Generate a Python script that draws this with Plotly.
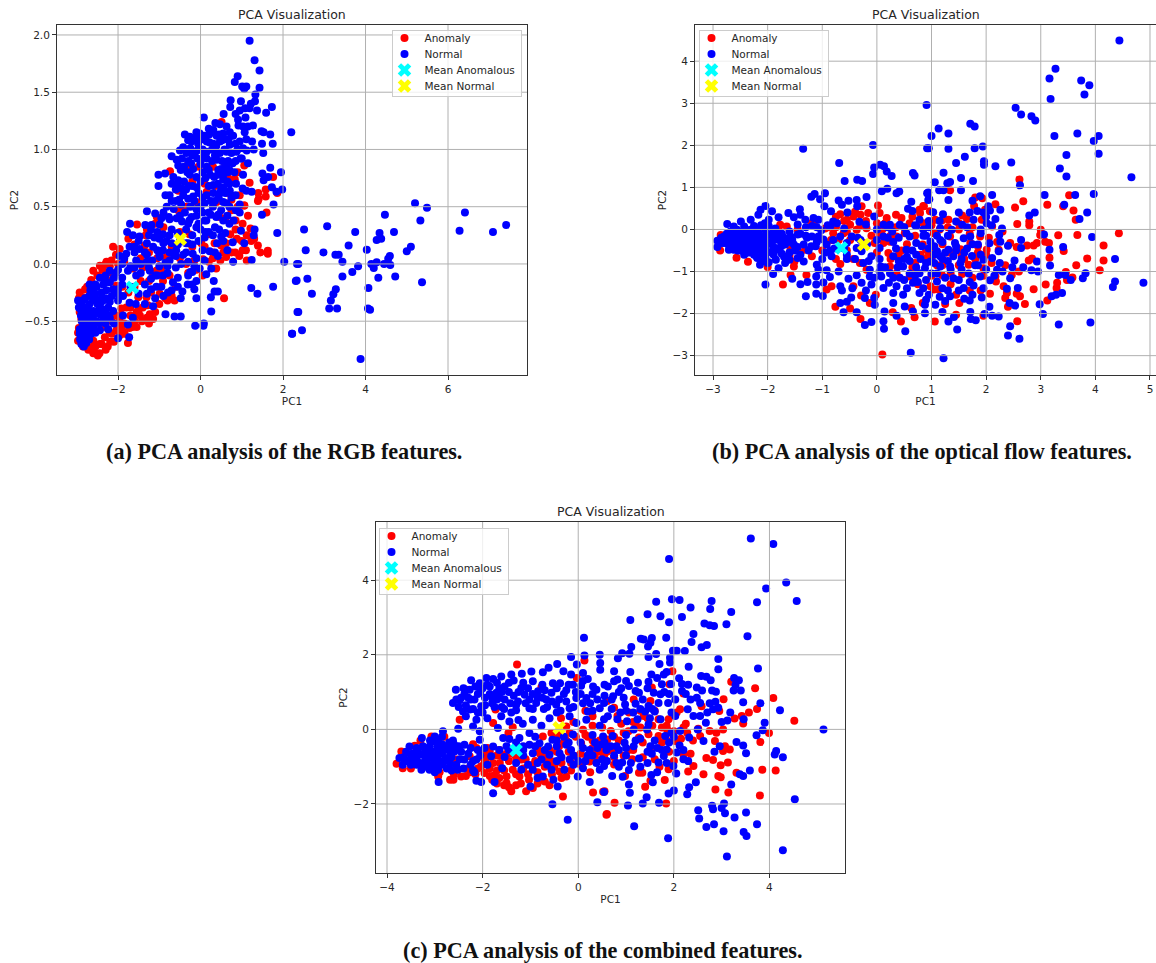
import plotly.graph_objects as go

W, H = 1156, 963

# (PC1, PC2) values, one list per panel and class
rgb_normal = [(5.20,.53),(5.49,.49),(6.41,.45),(7.41,.34),(7.09,.28),(6.28,.29),(5.33,.38),(4.47,.43),(4.69,.28),(4.34,.27),(4.38,.22),(4.27,.21),(3.75,.28),(3.07,.33),(2.51,.30),(2.55,.12),(2.98,.10),(3.27,.08),(3.35,.08),(3.59,.16),(4.03,.125),(3.44,.02),(2.37,0),(2.59,-.13),(2.33,-.145),(2.70,-.26),(3.44,-.11),(3.68,-.07),(3.82,-.02),(4.14,0),(4.27,.015),(4.2,-.035),(4.45,0),(4.59,.07),(4.55,.045),(4.6,-.01),(4.72,-.11),(4.31,-.12),(5.0,.11),(5.1,.15),(5.37,-.16),(4.07,-.21),(3.28,-.22),(3.22,-.265),(3.16,-.32),(3.12,-.39),(3.31,-.39),(4.06,-.39),(4.11,-.40),(2.37,-.42),(2.46,-.58),(2.22,-.61),(3.88,-.83),(2.2,1.15),
(1.19,1.95),(1.31,1.78),(1.43,1.69),(.9,1.64),(.83,1.59),(1.01,1.55),(1.11,1.55),(1.06,1.53),(1.43,1.54),(1.33,1.48),(.73,1.43),(.98,1.42),(1.32,1.42),(1.22,1.40),(.72,1.37),(1.73,1.37),(1.08,1.36),(.95,1.34),(1.19,1.36),(1.37,1.34),(1.59,1.32),(.85,1.31),(.56,1.31),(1.09,1.28),(.91,1.26),(.08,1.28),(.36,1.23),(.47,1.22),(.92,1.21),(1.27,1.21),(1.15,1.20),(1.03,1.20),(.63,1.20),(.31,1.17),(.71,1.15),(1.07,1.15),(1.48,1.16),(1.53,1.15),(1.69,1.13),(-.38,1.13),(-.26,1.11),(-.02,1.14),(.21,1.13),(.39,1.12),(.55,1.14),(.79,1.12),(1.11,1.09),(1.25,1.07),(.95,1.07),(1.49,1.05),(1.75,1.05),(1.29,1.0),(1.52,.97),(1.03,1.01),(.71,1.04),(-.22,1.07),(-.06,1.05),(.15,1.07),(.31,1.05),(.47,1.07),(.6,1.09),(-.5,.99),(-.34,.97),(-.14,.97),(.15,.98),(.47,.97),(.63,.98),(.87,.98),(-.7,.94),(-.58,.91),(-.54,.86),(-.23,.88),(.15,.92),(.39,.91),(.67,.9),(.85,.90),(0,.87),(.15,.85),(.43,.82),(1.03,.78),(1.5,.79),(1.69,.84),(1.95,.80),(1.64,.76),(1.53,.73),(-1.02,.78),(-.86,.79),(-.66,.76),(-.7,.7),(-1.02,.68),(-.54,.73),(-.32,.8),(-.26,.78),(-.1,.76),(.23,.78),(.33,.76),(.55,.74),(.31,.69),(-.46,.66),(-.3,.68),(-.1,.67),(.55,.67),(.71,.64),(1.02,.66),(1.11,.64),(1.24,.63),(1.73,.67),(1.84,.63),(1.98,.65),(-.6,.55),(-.52,.56),(-.18,.59),(.15,.6),(.31,.62),(.47,.62),(.55,.54),(.63,.53),(.95,.52),(1.77,.52),(-1.3,.46),(-1.1,.44),(-.77,.41),(-.58,.4),(-.38,.45),(-.22,.41),(.05,.45),(.43,.43),(.95,.45),(1.49,.43),
(-1.71,.35),(-1.34,.34),(-1.19,.34),(-.99,.345),(-.75,.39),(-1.78,.28),(-1.64,.25),(-1.48,.24),(-1.12,.23),(-.91,.26),(-.83,.2),(-.27,.38),(-.1,.32),(.14,.38),(.38,.41),(.7,.35),(.98,.29),(1.31,.3),(1.29,.25),(1.86,.27),(1.06,.18),(.78,.19),(.5,.24),(.22,.11),(.42,.07),(.79,.02),(1.24,.035),(2.03,.02),(2.34,0),(-.35,.18),(-.59,.12),(-.91,.12),(-1.15,.15),(-1.48,.13),(-1.72,.15),(-1.96,.07),(-1.8,.09),(-1.56,.03),(-1.17,.03),(-.99,.06),(-.75,.03),(-.47,0),(-.19,.09),(-.02,-.04),(.26,-.04),(.14,-.09),(-.1,-.15),(-.31,-.18),(.32,-.15),(.42,-.24),(.34,-.24),(.25,-.29),(-.1,-.3),(-.15,-.22),(-.44,-.24),(-.48,-.3),(.26,-.415),(-.13,-.54),(.07,-.54),(.08,-.52),(-.48,-.46),(-.63,-.46),(-.85,-.44),(1.23,-.21),(1.38,-.26),(1.76,-.2),(2.31,-.15),(2.35,-.42),(2.22,-.61),(-1.23,-.06),(-.91,-.1),(-.67,-.16),(-.79,-.25),(-1.07,-.2),(-1.35,-.18),(-1.56,-.1),(-1.76,-.06),(-2.2,-.06),(-2.44,-.12),(-2.69,-.18),(-2.67,-.23),(-2.12,-.22),(-1.88,-.28),(-1.35,-.35),(-1.15,-.37),(-1.57,-.35),(-1.72,-.34),(-2,-.32),(-1.88,-.45),(-1.64,-.47),(-1.76,-.53),(-2.1,-.52),(-2.24,-.57),(-1.73,-.64),(-2,-.65),
(-2.97,-.32),(-2.85,-.32),(-2.9,-.35),(-2.69,-.35),(-2.53,-.32),(-2.36,-.32),(-2.24,-.38),(-2.12,-.41),(-2.44,-.38),(-2.6,-.41),(-2.77,-.45),(-2.6,-.45),(-2.44,-.44),(-2.28,-.44),(-2.2,-.47),(-2.36,-.48),(-2.52,-.5),(-2.69,-.51),(-2.85,-.53),(-2.93,-.57),(-2.77,-.57),(-2.6,-.56),(-2.44,-.58),(-2.93,-.61),(-2.77,-.63),(-2.65,-.61),(-2.89,-.7),(-2.77,-.69),(-2.8,-.66),(-2.52,-.2),(-2.36,-.18),(-2.28,-.23),(-2.7,-.28),(-2.55,-.26),(-2.4,-.25),(-2.3,-.3),(-2.9,-.45),(-2.85,-.42),(-2.72,-.4),(-2.5,-.42),
(-.3,1.08),(-.12,1.1),(.05,1.09),(.22,1.06),(.38,1.03),(.52,1.08),(.68,1.09),(.85,1.05),(-.42,1.02),(-.25,1.01),(-.08,.99),(.05,1.0),(.28,1.0),(.4,.97),(.58,1.0),(.75,.97),(1.12,.99),(-.45,.92),(-.3,.9),(-.08,.92),(.08,.94),(.28,.9),(.52,.9),(.62,.86),(.78,.88),(.97,.92),(-.48,.82),(-.18,.83),(.05,.8),(.12,.75),(.42,.78),(.5,.83),(.66,.8),(.82,.8),(-.55,.7),(-.4,.72),(-.2,.68),(0,.72),(.2,.68),(.42,.7),(.65,.72),(.86,.7),(-.75,.6),(-.42,.6),(-.3,.57),(-.05,.62),(.05,.58),(.25,.55),(.44,.58),(.6,.62),(.75,.58),(-.82,.5),(-.65,.48),(-.47,.52),(-.25,.5),(-.1,.48),(.1,.53),(.3,.5),(.5,.47),(.7,.5),(.86,.47),(-.95,.4),(-.45,.37),(-.1,.42),(.1,.38),(.25,.43),(.55,.38),(.65,.42),(.8,.38),(-1.2,.3),(-1.05,.28),(-.7,.3),(-.55,.27),(-.35,.3),(-.2,.25),(0,.3),(.2,.28),(.35,.32),(.6,.27),(-1.5,.2),(-1.3,.18),(-1,.22),(-.7,.18),(-.5,.2),(-.2,.17),(-.05,.2),(.1,.23),(.4,.18),(-1.6,.1),(-1.3,.08),(-1.05,.12),(-.75,.1),(-.6,.07),(-.35,.1),(-.1,.05),(.05,.12),(.35,.1),(-1.9,0),(-1.6,-.03),(-1.3,.02),(-1.0,-.02),(-.85,.01),(-.6,-.03),(-.3,.02),(-.15,-.02),(.1,.03),(-2.3,-.1),(-2.05,-.08),(-1.9,-.12),(-1.45,-.08),(-1.2,-.13),(-1.05,-.1),(-.8,-.08),(-.55,-.12),(-.3,-.1),(-.2,-.07),(-2.55,-.18),(-2.3,-.16),(-2.0,-.22),(-1.9,-.18),(-1.2,-.22),(-.95,-.2),(-.7,-.23),(-.55,-.2),(-.2,-.18),(-2.8,-.3),(-2.6,-.32),(-2.4,-.3),(-2.2,-.33),(-2,-.26),(-1.1,-.3),(-.9,-.28),(-2.15,-.28),(-2.2,-.16),(-1.7,-.2),(-1.5,-.26),(-1.3,-.26),
(-2.95,-.38),(-2.8,-.38),(-2.65,-.43),(-2.5,-.35),(-2.35,-.4),(-2.3,-.52),(-2.45,-.52),(-2.58,-.5),(-2.75,-.48),(-2.88,-.5),(-2.92,-.66),(-2.82,-.6),(-2.7,-.56),(-2.55,-.6),(-2.83,-.72),(-2.7,-.66),(-2.62,-.53),(-2.9,-.4),(-2.78,-.53),(-2.42,-.34),
(-2.1,-.12),(-2.0,-.05),(-1.85,.05),(-1.7,-.02),(-1.6,.15),(-1.45,.0),(-1.35,.1),(-1.25,-.03),(-1.1,-.1),(-1.0,.08),(-.9,.18),(-.8,-.02),(-.65,.08),(-.55,.17),(-.42,.08),(-.3,.18),(-.25,-.07),(0,.9),(.2,.82),(.35,.95),(.55,.78),(.7,.82),(.9,1.0),(1.0,.92),(1.15,.88),(.45,1.13),(.2,1.18),(.1,1.12),(-.1,1.15),(-.2,.95),(-.4,.85),(-.35,.65),(-.15,.55),(0,.5),(.2,.45),(.35,.55),(.5,.65),(.7,.7),(.85,.6),(-.6,.65),(-.7,.55),(-.85,.6),(-.5,.42),(-.3,.35),(-.05,.35),(.12,.28),(.3,.25),(.45,.3),(.55,.2),(.65,.12),(-.9,.45),(-.75,.25),(-1.25,.25)]

rgb_anomaly = [(.51,1.24),(-.74,.81),(-.32,.86),(1.06,.86),(.9,.8),(.67,.75),(.83,.74),(1.19,.71),(1.76,.76),(1.58,.65),(1.4,.62),(1.41,.57),(1.58,.59),(1.86,.62),(.95,.6),(.75,.56),(1.06,.51),(1.6,.45),(-.54,.64),(-1.06,.41),(-.54,.47),(-.34,.5),(.15,.63),(-.1,.54),(.39,.54),(.75,.47),
(-2.49,-.8),(-2.6,-.75),(-2.97,-.67),(-2.4,-.7),(-2.19,-.68),(-1.76,-.69),(-2.15,-.61),(-1.72,-.56),(-1.15,-.48),(-1.23,-.44),(-1.47,-.45),(-1.6,-.5),(-1.96,-.5),(-1.8,-.38),(-2.93,-.25),(-2.85,-.29),(-2.93,-.42),(-2.89,-.48),(-2.95,-.56),(-2.6,-.06),(-2.44,-.015),(-2.16,.03),(-2.12,.15),(-1.96,.13),(-1.35,.16),(-1.54,.345),(-1.33,.25),(-.63,-.32),(.57,-.3),(.38,-.04),(1.12,.03),(.94,.07),(.84,.1),(.62,.06),(.5,.16),(.34,.18),(1.39,.16),(1.63,.115),(1.63,.09),(1.23,.2),(1.21,.31),(1.39,.55),(1.06,.51),(1.02,.35),(-.99,-.26),(-1.31,-.29),(-1.51,-.29),(-1.92,-.39),(-2.04,-.19),(-1.07,-.06),(-.91,-.15),(-1.64,-.04),(-1.4,-.03),(-2.2,-.15),(-2.32,-.1),(-.83,.06),(-.35,0),(.06,.04),(-.27,.26),(-.43,.47),(.22,.26),(.62,.18),(.02,.18),(.46,.41),(.9,.5),(-2.6,-.67),(-2.32,-.64),(-2.44,-.7),(-2.04,-.58),(-1.84,-.61),(-2.69,-.73),(-2.85,-.72),(-2.75,-.2),(-2.5,-.1),(-2.2,-.02),(-1.2,-.25),(-1.5,-.4),(-1.7,-.45),(-.7,.15),(-.1,-.05),(.2,.02),
(-2.3,-.55),(-2.15,-.5),(-2.0,-.45),(-1.85,-.52),(-1.7,-.38),(-1.55,-.42),(-1.4,-.38),(-1.28,-.36),(-1.95,-.55),(-2.25,-.72),(-2.55,-.72),(-2.72,-.75),(-2.9,-.68),(-2.97,-.6),(-2.8,-.22),(-2.65,-.14),(-2.38,-.05),(-2.28,.02),(-2.05,.08),(-1.85,.02),(-1.75,.22),(-1.6,.17),(-1.45,.05),(-1.25,.1),(-.8,-.32),(-.5,.05),(-.2,.15),(.05,-.1),(.48,.03),(.3,.1),(.72,.26),(.88,.22),(1.02,.12),(1.12,.25),(.85,.38),(.6,.4),(1.15,.42),(.65,.62),(.35,.68),(.1,.7),(-.2,.72),(-.05,.85),(.3,.85),(.6,.87),(-.5,.28),(-.9,.32),(-1.05,.05),
(-2.2,-.6),(-2.1,-.45),(-1.95,-.62),(-1.9,-.58),(-1.65,-.55),(-1.55,-.55),(-1.42,-.5),(-1.3,-.47),(-1.25,-.52),(-1.1,-.42),(-1,-.35),(-.85,-.3),(-.7,-.28),(-1.9,-.2),(-1.75,-.25),(-1.6,-.2),(-1.45,-.15),(-1.25,-.15),(-1.15,-.1),(-.95,-.05),(-.75,-.1),(-.6,-.2),(-2.45,-.78),(-2.3,-.75),(-2.1,-.68),(-2.6,-.78),(-2.95,-.3),(-2.3,.0),(-2.15,-.08),(-2.0,.0),(-1.3,.3),(-1.1,.35),(-.3,-.08),(-.15,.03),(.1,.15),(.3,.05),(.55,.1),(.75,.1),(1.0,.2),(.85,.3),(1.1,.12),(1.3,.22),(1.45,.1)]

flow_normal = [(-1.35,1.92),(-.07,2.01),(-.69,1.58),(-.59,1.15),(-.36,1.18),(-.27,1.15),(-.05,1.47),(-.07,1.32),(.06,1.54),(.13,1.5),(.18,1.38),(.27,1.27),(.66,1.34),(.69,1.28),(.09,.91),(.19,.97),(.36,.86),(.41,.9),(.92,1.93),(-1.2,.78),(-1.14,.84),(-1.04,.72),(-.95,.86),(-.19,.77),(-.7,.69),(-.64,.59),(-.52,.68),(-.37,.7),(-.36,.55),(-.96,.55),(-.84,.43),(-.54,.4),(.63,.66),(.57,.49),(.65,.44),(.92,.86),(.94,.7),(-2.04,.56),(-2.13,.47),(-2.17,.35),(-1.92,.43),(-1.8,.29),(-1.62,.39),(-1.41,.48),(-1.4,.35),(-1.52,.29),(-1.31,.23),(-1.16,.27),(-1.07,.23),(-2.31,.23),(-2.49,.19),(-2.74,.13),(-2.62,.07),(-1.98,.23),(-2.05,.15),(-.8,.19),(-.73,.15),(-.32,.18),(-.05,.31),(.12,.11),(.24,.11),(.42,.11),(.78,.23),(.54,-.09),(.6,-.17),
(-2.92,-.42),(-2.92,-.27),(-2.8,-.17),(-2.68,-.05),(-2.56,-.01),(-2.43,.07),(-2.68,-.25),(-2.8,-.32),(-2.71,-.48),(-2.56,-.4),(-2.43,-.17),(-2.43,-.36),(-2.31,-.01),(-2.31,-.2),(-2.31,-.4),(-2.43,-.6),(-2.25,-.6),(-2.16,-.09),(-2.16,-.29),(-2.16,-.48),(-2.14,-.84),(-2.19,-.68),(-2.04,-.01),(-2.04,-.25),(-2.04,-.44),(-2.04,-.68),(-1.92,-.13),(-1.92,-.36),(-1.89,-.6),(-2.56,-.17),(-1.8,-.25),(-1.8,-.48),(-1.68,-.8),(-1.68,-.36),(-1.52,-.36),(-1.58,-.17),(-1.34,-.36),(-1.34,-.76),(-1.19,-.17),(-1.07,-.17),(-.92,-.36),(-.83,-.64),(-.67,-.17),(-.46,-.17),(-.37,-.44),(-.28,-.52),(-.1,-.64),(.05,-.44),(.12,-.17),
(-1.9,-1.06),(-1.8,-.92),(-2.04,-1.31),(-1.55,-1.17),(-1.4,-1.3),(-1.27,-1.25),(-1.11,-1.31),(-1.11,-1.12),(-1.1,-.84),(-1.07,-.96),(-.92,-.97),(-.86,-1.13),(-.98,-1.26),(-1.3,-1.59),(-1.11,-1.53),(-.99,-1.58),(-.52,-1.17),(-.37,-1.09),(-.28,-1.27),(-.67,-1.35),(-.64,-1.45),(-.47,-1.62),(-.55,-1.72),(-.67,-1.75),(-.61,-1.97),(-.37,-1.97),(-.22,-1.63),(-.05,-1.63),(-.1,-1.31),(-.13,-1.12),(-.13,-.96),(.07,-.88),(.08,-1.12),(.24,-1.04),(.22,-1.27),(.36,-1.35),(.3,-1.51),(.48,-1.55),(.12,-1.39),(-.04,-1.79),(.14,-1.95),(.12,-2.18),(.13,-2.36),(-.1,-2.2),(-.22,-2.27),(.36,-2.05),(.52,-2.42),(.51,-1.83),(.66,-1.95),(.62,-2.93),(.88,-1.99),(.9,-1.67),(.78,-1.51),(.66,-1.27),(.78,-1.04),(.48,-.88),(.3,-.64),(.54,-.48),(.72,-.32),(.9,-.8),
(4.44,4.49),(3.27,3.82),(3.16,3.59),(3.18,3.1),(3.74,3.54),(3.89,3.43),(3.8,3.21),(2.54,2.89),(2.64,2.73),(2.83,2.69),(2.9,2.59),(3.25,2.22),(3.67,2.28),(4.06,2.22),(3.97,2.1),(3.47,1.77),(4.06,1.8),(3.35,1.45),(3.47,1.26),(4.66,1.24),(3.07,.82),(3.63,.82),(3.97,.84),(3.43,.59),(3.85,.4),(3.71,.25),(3.94,-.18),(3.41,-.42),(3.16,-.48),(3.17,-.86),(3.06,-.12),(2.89,.4),(2.79,.33),(.91,2.96),(1.13,2.4),(1,2.22),(1.31,2.28),(1.71,2.51),(1.79,2.45),(.95,1.93),(1.31,1.92),(1.79,1.93),(1.94,1.97),(1.61,1.73),(1.45,1.58),(1.96,1.62),(1.96,1.54),(2.17,1.5),(2.46,1.59),(1.22,1.35),(1.06,1.12),(1.29,1.1),(1.34,1.13),(1.54,1.22),(1.76,1.15),(2.62,1.05),(.94,.88),(1.14,.93),(1.22,.93),(1.54,.93),(.96,.72),(1.31,.7),(1.89,.79),(1.75,.68),(2.11,.82),(2.04,.55),(2.07,.45),(2.26,.47),(1.84,.44),(1.03,.41),(1.21,.36),(1.77,.23),(2.17,.25),(2.01,.15),(1.45,.19),(1.56,.11),(.95,.2),(2.29,.02),(2.24,-.13),(2.64,-.25),(2.4,-.39),(2.64,-.44),(2.26,-.29),(2.06,-.33),(1.9,-.09),(1.59,-.21),(1.71,-.17),(1.85,-.36),(1.43,-.32),(1.16,.03),(1.37,-.01),(1.16,-.25),(.98,-.29),(.82,-.4),(1.1,-.52),(1.31,-.48),(1.16,-.64),(.98,-.76),(1.4,-.64),(1.53,-.8),(1.74,-.63),(1.95,-.72),(2.11,-.68),(2.23,-.52),(2.52,-.74),(2.48,-.9),(2.68,-.9),(2.83,-.97),(2.95,-1),(2.93,-.76),(2.2,-.96),(2.07,-1.21),(1.89,-1.12),(1.68,-1.05),(1.34,-.88),(1.16,-.88),(.88,-.92),(1.1,-1.24),(1.4,-1.16),(1.59,-1.39),(1.77,-1.33),(1.34,-1.59),(1.7,-1.69),(1.92,-1.62),(1.07,-1.79),(.88,-1.79),(1.2,-1.96),(1.71,-1.96),(2.06,-1.84),(2.43,-1.75),(2.53,-1.81),(2.38,-1.41),(2.58,-1.39),(2.44,-1.16),(2.98,-1.78),(3.04,-2.01),(3.33,-2.26),(3.91,-2.21),(2.44,-2.3),(2.4,-2.52),(2.61,-2.6),(2.23,-2.07),(2.11,-2.05),(1.97,-2.01),(1.81,-2.16),(1.72,-2.13),(1.41,-2.08),(1.31,-2.19),(1.47,-2.38),(1.22,-3.06),(3.39,-1.51),(3.28,-1.55),(3.2,-1.59),(3.33,-1.08),(3.45,-1.08),(3.55,-1.2),(3.77,-1.16),(3.82,-1.04),(4.36,-.7),(4.36,-1.24),(4.32,-1.37),(4.88,-1.27),
(-2.85,-.32),(-2.75,-.2),(-2.72,-.36),(-2.62,-.12),(-2.62,-.3),(-2.62,-.48),(-2.5,-.08),(-2.5,-.26),(-2.5,-.5),(-2.38,-.02),(-2.38,-.27),(-2.38,-.48),(-2.25,.08),(-2.25,-.12),(-2.25,-.3),(-2.25,-.5),(-2.12,.1),(-2.1,-.18),(-2.1,-.38),(-2.1,-.58),(-2.1,-.75),(-1.98,.08),(-1.98,-.12),(-1.98,-.32),(-1.98,-.54),(-1.98,-.78),(-1.86,.02),(-1.86,-.22),(-1.85,-.44),(-1.85,-.72),(-1.74,-.1),(-1.74,-.32),(-1.74,-.58),(-1.6,-.05),(-1.6,-.3),(-1.6,-.55),(-1.6,-.72),(-1.45,.12),(-1.45,-.12),(-1.45,-.42),(-1.45,-.68),(-1.3,.05),(-1.28,-.2),(-1.25,-.5),(-1.18,.08),(-1.12,-.4),(-1.02,-.02),(-.98,-.24),(-.95,-.55),(-.85,.08),(-.8,-.25),(-.78,-.45),(-.6,.02),(-.55,-.32),(-.55,-.6),(-.35,-.2),(-.4,-.7),(-.2,.12),(-.18,-.35),(-.15,-.75),(0,0),(.05,-.7),(.2,-.2),(.15,-.9),(.35,-.45),(.38,-.9),(.42,-1.15),(.5,-.7),(.6,-.75),(.6,-1.05),(.72,-.6),(.72,-.9),(.55,-1.4),(.75,-1.25),(.3,-1.75),(.85,-1.4),(1.0,-1.05),(.95,-1.55),(1.2,-1.4),(1.25,-1.15),(1.5,-1.45),(1.55,-.95),(1.45,-.4),(1.3,-.15),(1.05,-.8),(1.05,-.4),(1.2,-.7),(1.25,-1.7),(1.85,-.85),(1.75,-1.55),(1.95,-1.4),(2.15,-1.1),(1.65,-.45),(2.0,.3),(1.65,.05),(1.15,.2),(.95,.05),(.85,-.15),(.72,.08),(.4,-.2),(.28,-.05),(-.7,-1.0),(-.45,-1.4),(-.2,-1.45),(-.05,-1.15),
(-2.85,-.2),(-2.75,-.3),(-2.75,-.1),(-2.65,-.35),(-2.65,-.2),(-2.6,.0),(-2.55,-.28),(-2.55,-.5),(-2.45,-.05),(-2.45,-.28),(-2.45,-.45),(-2.35,-.1),(-2.35,-.3),(-2.35,-.55),(-2.2,.0),(-2.2,-.2),(-2.2,-.4),(-2.2,-.65),(-2.05,.05),(-2.05,-.15),(-2.05,-.35),(-2.05,-.55),(-2.0,-.8),(-1.9,-.05),(-1.9,-.25),(-1.9,-.5),(-1.8,-.1),(-1.75,-.4),(-1.7,-.65),(-1.7,-.2),(-1.55,-.25),(-1.5,-.5),(-1.4,-.1),(-1.4,-.6),(-1.3,-.15),(-1.2,-.4),(-1.1,.05),(-1.1,-.3),(-1,-.7),(-.9,.1),(-.85,-.5),(-.6,-.45),(-.55,-.7),(-.3,-.25),(-.25,-.8),(0,-.25),(.05,-1.0),(.2,.05),(.3,-.3),(.4,-.75),(.55,-.65),(.65,-.5),(.8,-.7),(.9,-.15),(.95,-.45),(1.05,-.6),(1.1,-.15),(1.2,-.3),(1.25,-.55),(1.3,-.75),(1.45,-.5),(1.6,-.55),(1.75,-.35),(1.8,-.85),(1.9,-.6),(1.55,-.7),(1.35,-.95),(1.1,-1.05),(.9,-1.2),(.7,-1.1),(.5,-1.2),(.3,-1.15),(1.7,-1.25),(1.5,-1.2),(1.3,-1.45),(1.15,-1.6),(1.6,-1.65),(2.25,-.8),(2.3,-1.0),(2.0,-.95),(.5,.05),(.7,.1),(.85,.0),(1.5,.4),(1.7,.4),(1.95,.4),(1.9,.0),(2.1,.1)]

flow_anomaly = [(-2.87,-.5),(-2.86,-.13),(-2.57,-.67),(-2.36,-.77),(-2,-.89),(-1.72,-1.31),(-1.58,-1.08),(-1.52,-.88),(-1.29,-1.08),(-1.51,-.76),(-1.58,-.48),(-1.31,-.48),(-1.19,-.64),(-1.65,.07),(-1.77,.11),(-1.8,.03),(-1.95,-.13),(-.67,.36),(-.28,.55),(-.3,.35),(-.55,.23),(-.43,.31),(-.49,.11),(-.8,-.09),(-.7,-.25),(-.84,-.25),(-.37,-.01),(-.19,.03),(-.16,.39),(.02,.57),(.05,.39),(.18,.27),(.45,.27),(.51,-.09),(.78,.47),(.86,.55),(.6,.15),(.24,-.29),(.36,-.17),(.9,-.48),(.84,-.36),(.21,-.56),(.24,-.88),(.36,-1.04),(.6,-1.12),(.84,-1.75),(.63,-1.87),(.69,-2.09),(.44,-2.19),(.29,-1.97),(.1,-2.97),(-.3,-2.13),(-.76,-1.84),(-.49,-1.88),(-.29,-1.57),(-.13,-1.75),(-.02,-1.55),(-.43,-1.35),(-.83,-1.35),(-.92,-1.43),(-.67,-.82),(-.43,-.7),(-.31,-.8),(-.19,-.96),(-.25,-.32),(-.04,-.32),(.12,-.32),(-.49,-.25),(-.61,-.09),
(2.61,1.19),(2.68,.67),(2.53,.52),(2.17,.6),(3.12,.59),(3.52,.81),(3.41,.55),(3.6,.45),(3.64,.23),(2.79,.19),(2.79,.1),(2.57,.13),(3,-.01),(2.99,-.13),(3.32,-.14),(3.67,-.13),(4.43,-.09),(4.15,-.38),(4.15,-.74),(3.85,-.69),(3.65,-.85),(4.08,-.97),(3.15,-.32),(3.08,-.29),(2.93,-.32),(2.87,-.38),(2.75,-.38),(2.56,-.42),(2.44,-.32),(3.16,-.67),(3.42,-.51),(2.78,-.74),(2.84,-.69),(2.6,-1),(2.47,-1.08),(2.32,-1.35),(2.38,-1.51),(2.35,-1.63),(2.4,-1.84),(2.56,-1.53),(2.62,-1.59),(2.71,-1.77),(2.87,-1.42),(3.09,-1.31),(3.3,-1.27),(3.29,-1.39),(3.12,-1.69),(3.46,-1.01),(3.48,-1.2),(3.58,-1.14),(2.07,-1.53),(2.18,-1.24),(1.95,-2.05),(2.57,-2.18),(1.06,-2.19),(1.45,-2.03),(1.51,-1.75),(1.25,-1.77),(1.04,-1.43),(1.13,-1.43),(.98,-1.35),(1.56,.33),(1.31,.23),(1.19,.21),(1.07,.23),(1.34,.93),(1.8,.76),(1.93,.74),(1.78,.56),(1.98,.47),(1.92,.23),(2.11,.07),(1.89,-.17),(1.71,-.32),(1.53,-.47),(1.34,-.17),(1.04,-.09),(.85,.56),(.97,.43),(.79,.39),(.85,.15),(.91,-.68),(1.56,-1.06),(1.68,-.84),(2.01,-.48),(2.23,-.48),(1.95,-.92),(2.17,-1.12),(1.19,-1.08),
(-.6,.2),(-.75,.05),(-.55,-.05),(-.4,.42),(-.2,.2),(0,.15),(.15,.15),(.35,.05),(.05,-.1),(.25,-.15),(-.1,-.15),(.4,-.6),(.55,-.35),(.7,-.15),(1,.1),(1.3,.05),(1.5,.0),(1.75,.05),(1.2,-.35),(1.4,-.55),(1.6,-.7),(1.85,-.55),(2.05,-.2),(1.2,-.85),(.7,-.8),(.75,-1.3),(1.0,-1.1),(1.35,-1.3),(1.75,-1.15),(1.9,-1.45),(.95,-.55),(-1.4,-.55),(-1.6,-.62),(-1.45,.0),(-1.2,.15),(-.95,.02),(-1.0,-.5),(-.55,-.5),(-.75,-.7),
(-1.15,.1),(-.9,.05),(-.75,.3),(-.3,.1),(.1,0),(.35,.35),(.65,.3),(.5,.05),(1.15,.0),(1.5,.15),(1.65,.25),(1.7,-.1),(1.05,-.45),(1.1,-.85),(1.3,-.55),(1.55,-.6),(1.8,-.7),(1.5,-.85),(1.35,-1.05),(1.0,-.7),(.8,-.6),(.65,-.9),(.45,-.5),(.25,-.7),(.0,-.55),(1.85,-.4),(2.0,-.6),(2.1,-.8),(2.35,-.85),(2.2,-.3),(2.3,-.05),(1.45,-1.55),(1.7,-1.45),(1.95,-1.1)]

combined_normal = [(.12,2.46),(-.15,1.94),(.13,1.98),(.45,2),(.46,1.78),(.46,1.6),(-.03,1.74),(-.44,1.75),(-.62,1.65),(-.74,1.53),(-.98,1.55),(-1.18,1.49),(-1.4,1.47),(-1.35,1.31),(-1.61,1.42),(-1.78,1.35),(-1.92,1.38),(-2.24,1.32),(-2.06,1.24),(-2.56,1.06),(-2.62,.71),(-2.48,.78),(-2.41,.48),(-2.27,1.06),(-2.17,.8),(-2.27,.53),(-2.13,.26),(-2.2,.08),(-2.51,.02),(-2.03,.62),(-1.85,1.15),(-1.71,.98),(-1.54,1.15),(-1.54,.8),(-1.61,.35),(-1.44,.21),(-1.68,.04),(-1.19,1.11),(-1.26,.75),(-1.3,.51),(-1.12,.93),(-.95,1.29),(-.84,1.02),(-.88,.71),(-1.02,.57),(-.95,.26),(-1.16,.15),(-.77,.1),(-.67,.8),(-.53,1.24),(-.56,.98),(-.38,1.24),(-.31,1.56),(-.15,1.47),(-.11,1.2),(.1,1.51),(.2,1.35),(.06,1.17),(.31,1.15),(.38,1.06),(.17,.84),(-.04,.84),(-.18,.57),(-.37,.5),(-.46,.66),(-.18,.35),(.2,.48),(.17,.26),(-.04,.17),(.45,.57),(.62,.35),(.45,.1),(-2.06,-.05),(-2.06,-.28),(-2.83,-.05),(-3,-.19),(-3.27,-.23),(-3.53,-.46),(-3.74,-.77),(-3.67,-.95),(-3.46,-.64),(-3.46,-.86),(-3.28,-.68),(-3.28,-1.08),(-3.11,-.46),(-3.11,-.77),(-3.11,-1.08),(-2.93,-.28),(-2.93,-.55),(-2.93,-.81),(-2.93,-1.08),(-2.92,-1.41),(-2.77,-.46),(-2.77,-.77),(-2.62,-.3),(-2.59,-.59),(-2.52,-1.08),(-2.38,-.41),(-2.38,-.81),(-2.13,-.81),(-2.17,-1.15),(-2.13,-1.38),(-2.03,-1.41),(-1.75,-1.41),(-1.78,-1.71),(-1.96,-.5),(-1.78,-.46),(-1.82,-.72),(-1.54,-.74),(-1.57,-.23),(-1.44,-.26),(-1.59,-1.04),(-1.3,-.9),(-1.19,-1.08),(-1.23,-.23),(-1.02,-.1),(-1.02,-.41),(-.81,-.37),(-.95,-.64),(-.77,-.81),(-1.05,-.95),(-.95,-1.08),(-.74,-1.26),(-1,-1.53),(-.54,-.28),(-.63,-.46),(-.6,-.68),(-.56,-1.08),(-.52,-1.35),(-.43,-1.53),(-.54,-2.01),(-.25,-.41),(-.39,-.64),(-.18,-.81),(-.29,-1.08),(-.01,-1.26),(.1,-1.04),(-.11,-.14),(.24,-.55),(.38,-.9),(.45,-1.08),(.24,-1.41),(.54,-1.68),(.4,-1.95),(-.22,-2.42),(.52,-.19),(.59,-.55),
(3.61,5.12),(4.08,4.97),(1.9,4.57),(4.35,3.94),(3.93,3.78),(3.74,3.41),(4.57,3.44),(1.63,3.42),(1.96,3.49),(2.12,3.47),(2.35,3.27),(2.79,3.44),(2.76,3.23),(3.2,3.15),(1.45,3.09),(1.72,3.03),(2.17,3.01),(1.09,2.93),(1.9,2.87),(2.64,2.84),(2.75,2.79),(2.84,2.77),(3.1,2.82),(3.54,2.5),(2.41,2.56),(1.31,2.43),(1.37,2.41),(1.54,2.45),(1.84,2.46),(1.51,2.32),(1.46,2.22),(2.37,2.34),(2.69,2.26),(2.58,2.2),(1.11,2.21),(2.23,2.1),(1.98,2.11),(2.06,2.11),(.92,2.04),(1.07,2.03),(.83,1.91),(1.47,1.94),(1.63,2.02),(1.92,1.92),(1.92,1.79),(1.7,1.75),(2.93,1.89),(2.93,1.61),(2.31,1.68),(3.76,1.63),(.75,1.56),(1.09,1.54),(.75,1.29),(.82,1.34),(1.53,1.47),(1.65,1.38),(1.79,1.47),(1.85,1.54),(1.47,1.28),(1.75,1.21),(1.94,1.22),(2.11,1.37),(2.17,1.22),(2.57,1.43),(2.68,1.41),(2.77,1.32),(3.26,1.38),(3.36,1.32),(3.29,1.19),(2.48,1.12),(2.59,1.04),(2.8,1.04),(2.88,1.01),(3.25,1.04),(3.4,1.04),(1.06,1.16),(1.2,1.03),(2.17,1.03),(.73,.89),(.95,.85),(1.27,.98),(1.58,.98),(1.72,.94),(2.03,.8),(2.48,.85),(2.55,.71),(2.75,.7),(2.87,.74),(3.45,.73),(3.81,.7),(4.22,.51),(.98,.67),(1.2,.69),(1.47,.63),(1.68,.71),(1.88,.71),(2.29,.54),(2.41,.36),(2.55,.36),(2.82,.54),(2.93,.58),(3.18,.45),(3.46,.27),(3,.2),(3.12,.24),(2.67,.18),(3.9,.18),(3.86,-.02),(3.73,-.16),(5.13,0),(.54,.71),(.54,.27),(.82,.27),(1.02,.22),(1.24,.27),(1.47,.13),(1.72,.27),(2.03,.36),(1.16,0),(1.44,0),(.72,-.18),(.97,-.36),(.68,-.45),(1.16,-.45),(1.51,-.45),(1.82,-.18),(2.13,-.04),(2.32,-.22),(2.12,-.43),(2.62,-.31),(2.96,-.45),(2.85,-.6),(3.31,-.34),(3.45,-.43),(3.51,-.64),(4.14,-.58),(4.11,-.67),(4.28,-.75),(1.85,-.54),(1.68,-.89),(1.79,-.71),(2.06,-.62),(1.27,-.78),(1.54,-.65),(2.2,-.8),(2.3,-.85),(1.99,-.98),(2.05,-1.18),(.92,-.89),(1.06,-1.09),(.71,-1.25),(.54,-.98),(.93,-1.27),(1.53,-1.22),(1.56,-1.42),(1.06,-1.48),(1.08,-1.7),(1.43,-1.82),(1.35,-1.99),(1.04,-2.04),(1.69,-1.97),(1.89,-1.72),(2,-1.64),(2.28,-1.74),(2.32,-1.55),(2.46,-1.42),(3.2,-1.48),(3.59,-1.1),(3.38,-1.2),(3.45,-1.25),(4.53,-1.87),(3.05,-1.99),(2.8,-2.05),(2.82,-2.14),(3,-2.11),(3.07,-2.25),(2.51,-2.17),(2.53,-2.39),(2.84,-2.54),(2.68,-2.62),(3.27,-2.36),(3.51,-2.23),(3.74,-2.54),(3.04,-2.73),(3.46,-2.75),(3.52,-2.86),(1.17,-2.6),(1.88,-2.92),(3.11,-3.41),(4.28,-3.24),
(-3.65,-.75),(-3.6,-.6),(-3.55,-.85),(-3.5,-.95),(-3.38,-.5),(-3.38,-.75),(-3.38,-.95),(-3.2,-.55),(-3.2,-.85),(-3.18,-1.0),(-3.05,-.32),(-3.03,-.6),(-3.02,-.9),(-3.0,-1.15),(-2.85,-.4),(-2.85,-.65),(-2.85,-.95),(-2.7,-.35),(-2.68,-.62),(-2.68,-.92),(-2.65,-1.1),(-2.5,-.45),(-2.48,-.8),(-2.3,-.65),(-2.25,-.95),(-2.2,-1.1),(-2.1,-.55),(-2.45,.85),(-2.35,.65),(-2.38,.95),(-2.25,.8),(-2.1,.95),(-2.1,.45),(-2.0,1.1),(-1.95,.85),(-1.95,.65),(-1.9,.3),(-1.8,.85),(-1.75,.6),(-1.65,1.1),(-1.65,.85),(-1.6,.6),(-1.45,1.0),(-1.42,.7),(-1.4,.45),(-1.25,1.0),(-1.25,.25),(-1.05,1.1),(-1.02,.8),(-.95,.55),(-.75,1.2),(-.75,.85),(-.72,.55),(-.6,.3),(-.45,1.1),(-.4,.8),(-.25,1.05),(-.25,.75),(-.1,.6),(.05,.95),(.25,.7),(.3,.95),(.55,.9),(.62,1.15),(.7,.55),(.9,1.1),(.88,.45),(1.15,.45),(1.35,.8),(1.4,.48),(1.8,1.0),(1.95,.45),(2.25,.95),(1.6,.48),
(-1.45,-.55),(-1.3,-.55),(-1.15,-.7),(-1.15,-.45),(-.9,-.2),(-.85,-.9),(-.45,-.3),(-.45,-.85),(-.3,-.2),(-.15,-.55),(-.1,-.95),(.05,-.35),(.15,-.85),(.3,-.15),(.35,-.35),(.3,-.7),(.5,-.4),(.5,-.8),(.75,-.7),(.85,-.55),(.85,-1.0),(1.0,-.15),(1.0,-.7),(1.3,-.25),(1.3,-1.0),(1.45,-.9),(1.65,-.5),(1.65,-1.15),(1.85,-.9),(2.0,-.2),(2.5,.0),(2.7,.45),
(-3.6,-.85),(-3.5,-.7),(-3.4,-.85),(-3.35,-.6),(-3.3,-.9),(-3.25,-.45),(-3.2,-.7),(-3.15,-.95),(-3.1,-.3),(-3.1,-.6),(-3.05,-.75),(-3,-1.0),(-2.95,-.45),(-2.95,-.7),(-2.9,-.9),(-2.85,-.2),(-2.8,-.55),(-2.8,-.85),(-2.75,-1.05),(-2.7,-.5),(-2.65,-.75),(-2.6,-.4),(-2.55,-.95),(-2.45,-.6),(-2.4,-1.05),(-2.25,-.5),(-2.2,-.85),(-2.05,-.7),(-2.55,.8),(-2.5,.6),(-2.4,1.1),(-2.35,.35),(-2.3,.85),(-2.2,.55),(-2.15,1.15),(-2.05,1.0),(-2.0,.45),(-1.9,1.2),(-1.85,.95),(-1.8,.7),(-1.7,1.25),(-1.7,.8),(-1.6,1.0),(-1.55,.55),(-1.45,1.25),(-1.35,.9),(-1.3,.65),(-1.15,1.25),(-1.1,.7),(-.95,.95),(-.85,.85),(-.7,1.05),(-.65,.6),(-.55,.75),(-.45,.45),(-.3,.95),(-.2,1.2),(-.05,1.0),(.1,1.3),(.1,.7),(.3,.5),(.4,.8),(.55,1.2),(.7,.8),(.85,1.0),(1.0,1.3),(1.0,.5),(1.25,1.25),(1.3,.55),(1.45,1.1),(1.5,.3),(1.55,.55),(1.9,.95),(2.3,1.2),(2.35,.8),(-1.9,-.95),(-1.65,-.55),(-1.5,-.45),(-1.3,-.35),(-1.15,-.55),(-.9,-.45),(-.7,-.55),(-.85,-1.3),(-.65,-.95),(-.45,-.45),(-.35,-.75),(-.2,-.35),(-.1,-.7),(0,-.85),(.1,-.5),(.2,-.7),(.4,-.5),(.55,-.35),(.6,-.85),(.8,-.45),(.8,-.9),(1,-.5),(1.1,-.9),(1.2,-.3),(1.45,-.6),(1.6,-.3),(1.75,-.55),(1.9,-.35),(1.95,-.1),(2.2,-.55)]

combined_anomaly = [(-1.28,1.74),(.13,1.85),(-.03,1.38),(-.77,1.13),(-2.34,1.06),(-1.73,.53),(-2.48,.26),(-1.78,.17),(-1.37,.06),(-1.46,-.1),(-3.07,-.19),(-3.42,-.44),(-3.7,-.59),(-3.8,-.92),(-3.67,-1.04),(-2.93,-1.26),(-2.68,-1.35),(-2.61,-1.35),(-2.45,-1.26),(-2.55,-.81),(-2.27,-.72),(-2.13,-.5),(-1.96,-.64),(-1.96,-.9),(-1.96,-1.17),(-1.78,-.9),(-1.75,-1.22),(-1.85,-1.04),(-2.03,-.99),(-1.64,-.9),(-1.5,-1.26),(-1.5,-1.44),(-1.4,-1.66),(-1.37,-1.08),(-1.09,-1.66),(-.95,-1.57),(-1.03,-1.35),(-1.19,-.81),(-1.23,-1.26),(-.63,-.81),(-.84,-.55),(-.53,-.86),(-.32,-1.8),(-.25,-1.26),(-.39,-1.13),(-.04,-.72),(.17,-.72),(.24,-.86),(-.36,.3),(-.18,-.1),(-.56,-.1),(-.74,-.19),(-.39,-.14),(.06,-.37),(.31,-1.69),(.59,-2.29),(.52,-1.67),(-.25,.08),(.1,-.01),(.38,-.55),(-2.1,-1.05),(-1.9,-.75),(-1.7,-1.1),(-1.6,-.7),(-1.3,-1.2),(-.9,-.85),(-.5,-1),(-.2,-.6),(.3,-.3),
(1.97,1.56),(1.54,1.12),(1.91,1.21),(2.2,.96),(3.2,1.28),(3.7,1.1),(3.04,.81),(4.08,.84),(3.74,.55),(3.57,.45),(3.42,.36),(3.27,.29),(3.45,.16),(4.52,.23),(3.99,-.1),(3.81,-.34),(3.03,-.58),(3.17,-.54),(3.07,-.45),(2.86,-.31),(2.89,-.09),(3.03,0),(2.75,-.04),(2.51,.02),(2.55,-.18),(2.28,-.09),(2.68,-.77),(2.82,-.82),(2.98,-.96),(3.13,-.89),(3.31,-1.16),(2.93,-1.25),(2.98,-1.28),(2.62,-1.2),(2.87,-1.61),(3.14,-1.69),(3.85,-1.08),(4.13,-1.1),(3.8,-1.77),(2.3,-1.13),(2.41,-.98),(1.89,-1.07),(1.81,-1.36),(1.4,-1.54),(1.27,-1.16),(1.34,-1.16),(.98,-1.25),(.55,-1.66),(.76,-1.97),(.6,-2.27),(1.84,-1.99),(1.51,-1.38),(1.13,-.8),(.75,-.94),(.54,-.71),(2.2,-.67),(2.03,-.31),(1.89,.27),(2.06,.45),(1.68,.27),(1.37,.36),(1.06,.45),(.75,.58),(.82,.36),(.61,.76),(1.16,.8),(1.51,.76),(2.13,.54),(2.58,.62),(2.95,.49),(1.47,-.13),(1.68,-.18),(1.27,-.22),(.61,-.27),(.54,-.45),(.95,-.09),(.68,-.04),(1.86,0),
(-2.6,-1.2),(-2.3,-1.05),(-2.15,-1.2),(-2.0,-.75),(-1.85,-.6),(-1.7,-.7),(-1.65,-1.3),(-1.55,-1.1),(-1.45,-.85),(-1.25,-.65),(-1.1,-.8),(-1.05,-1.2),(-.85,-1.15),(-.8,-.65),(-.7,-1.0),(-.6,-.55),(-.45,-.6),(-.35,-.9),(-.3,-.35),(-.15,-.9),(.05,-.65),(.05,-.95),(.2,-.2),(.25,-1.15),(.45,-.3),(.45,-.6),(.7,-.55),(.85,-.3),(1.05,-.05),(1.05,-.55),(1.2,.15),(1.35,-.35),(1.35,-.75),(1.55,.1),(1.6,-.8),(1.7,-1.0),(1.85,.1),(1.85,-.3),(2.0,-.85),(2.15,-.25),(2.25,.15),(2.4,-.3),(.3,.35),(.15,.5),(-.1,.2),(-.45,-.15),(-3.5,-1.05),(-3.3,-.3),(-2.8,-.2),(-2.2,-.4),(-2.9,-1.15),
(-2.35,-1.25),(-2.25,-1.15),(-1.85,-1.25),(-1.8,-1.35),(-1.7,-1.45),(-1.55,-1.5),(-1.45,-1.55),(-1.3,-1.5),(-1.2,-1.45),(-.85,-1.45),(-.7,-1.4),(-.55,-1.2),(-.6,-1.5),(-.35,-1.3),(-.15,-1.1),(-1.9,-.5),(-1.65,-.55),(-1.5,-.65),(-1.4,-.65),(-1.3,-.75),(-1.15,-1.05),(-.95,-.95),(-.75,-.75),(-.65,-.65),(-.4,-.45),(-.25,-.3),(-.05,-.2),(.15,-.15),(.3,-.5),(.35,-.75),(.6,-.6),(.75,-.2),(.75,-.75),(.95,-.7),(1.15,-.55),(1.15,.2),(1.3,.05),(1.45,.3),(1.5,-.55),(1.75,-.35),(1.75,.05),(1.9,-.6),(2,-.05),(2.2,.05),(2.35,-.65),(1.3,.5),(1.6,.5),(.9,.15),(.5,.05),(.3,.1)]

# Class means (PC1, PC2) per panel
rgb_means = {"anomalous": (-1.65, -.205), "normal": (-.49, .216)}
flow_means = {"anomalous": (-.65, -.44), "normal": (-.24, -.36)}
combined_means = {"anomalous": (-1.3, -.56), "normal": (-.4, .04)}

titles = ["PCA Visualization"] * 3
captions = ["(a) PCA analysis of the RGB features.",
            "(b) PCA analysis of the optical flow features.",
            "(c) PCA analysis of the combined features."]
x_ticks = [[-2, 0, 2, 4, 6], [-3, -2, -1, 0, 1, 2, 3, 4, 5], [-4, -2, 0, 2, 4]]
y_ticks = [[-.5, 0, .5, 1, 1.5, 2], [-3, -2, -1, 0, 1, 2, 3, 4], [-2, 0, 2, 4]]
x_ranges = [(-3.48, 7.915), (-3.33, 5.11), (-4.23, 5.58)]
y_ranges = [(-.97, 2.087), (-3.46, 4.86), (-3.85, 5.56)]

# Panel boxes in pixels: left, right, top, bottom
boxes = [(57, 527, 25, 375), (695, 1156, 25, 375), (376, 845, 522, 873)]
caption_pos = [(283.5, 451), (922, 451), (602.5, 950)]
legend_right = [522, 829, 509]
legend_top = [30, 30, 528]

panels = [(rgb_anomaly, rgb_normal, rgb_means),
          (flow_anomaly, flow_normal, flow_means),
          (combined_anomaly, combined_normal, combined_means)]

FONT = "DejaVu Sans"
INK = "#262626"
fig = go.Figure()
layout = dict(width=W, height=H, margin=dict(l=0, r=0, t=0, b=0), autosize=False,
              plot_bgcolor="white", paper_bgcolor="white",
              font=dict(family=FONT, size=11, color=INK))
shapes, annotations = [], []

for i, (anom, norm, means) in enumerate(panels):
    sfx = "" if i == 0 else str(i + 1)
    xa, ya = "x" + sfx, "y" + sfx
    lg = "legend" + sfx
    l, r, t, b = boxes[i]
    common = dict(xaxis=xa, yaxis=ya, legend=lg, mode="markers")
    fig.add_trace(go.Scatter(x=[p[0] for p in anom], y=[p[1] for p in anom], name="Anomaly",
                             marker=dict(color="#ff0000", size=8), **common))
    fig.add_trace(go.Scatter(x=[p[0] for p in norm], y=[p[1] for p in norm], name="Normal",
                             marker=dict(color="#0000ff", size=8), **common))
    fig.add_trace(go.Scatter(x=[means["anomalous"][0]], y=[means["anomalous"][1]], name="Mean Anomalous",
                             marker=dict(color="#00ffff", size=12, symbol="x"), **common))
    fig.add_trace(go.Scatter(x=[means["normal"][0]], y=[means["normal"][1]], name="Mean Normal",
                             marker=dict(color="#ffff00", size=12, symbol="x"), **common))
    axis = dict(showgrid=False, zeroline=False, showline=True, mirror=True, linecolor="#333333",
                linewidth=1, ticks="outside", ticklen=4, tickcolor="#333333",
                tickfont=dict(family=FONT, size=10.5, color=INK), automargin=False)
    layout["xaxis" + sfx] = dict(axis, domain=[l / W, r / W], anchor=ya, range=x_ranges[i],
                                 tickvals=x_ticks[i], tickformat="d",
                                 title=dict(text="PC1", font=dict(family=FONT, size=10.5, color=INK), standoff=4))
    layout["yaxis" + sfx] = dict(axis, domain=[1 - b / H, 1 - t / H], anchor=xa, range=y_ranges[i],
                                 tickvals=y_ticks[i], tickformat=".1f" if i == 0 else "d",
                                 title=dict(text="PC2", font=dict(family=FONT, size=10.5, color=INK), standoff=3))
    layout[lg] = dict(xref="paper", yref="paper", x=legend_right[i] / W, xanchor="right",
                      y=1 - legend_top[i] / H, yanchor="top",
                      bgcolor="rgba(255,255,255,0.8)", bordercolor="#cccccc", borderwidth=1,
                      font=dict(family=FONT, size=10.5, color=INK), itemwidth=30,
                      tracegroupgap=0)
    # Matplotlib draws the grid over the points, so it is drawn as shapes above the traces
    gridline = dict(color="#b0b0b0", width=1)
    for v in x_ticks[i]:
        shapes.append(dict(type="line", layer="above", xref=xa, yref=ya + " domain", x0=v, x1=v, y0=0, y1=1, line=gridline))
    for v in y_ticks[i]:
        shapes.append(dict(type="line", layer="above", xref=xa + " domain", yref=ya, x0=0, x1=1, y0=v, y1=v, line=gridline))
    annotations.append(dict(text=titles[i], showarrow=False, xref="paper", yref="paper",
                            x=(l + r) / 2 / W, y=1 - (t - 1) / H, yanchor="bottom", xanchor="center",
                            font=dict(family=FONT, size=12.5, color=INK)))
    annotations.append(dict(text="<b>" + captions[i] + "</b>", showarrow=False, xref="paper", yref="paper",
                            x=caption_pos[i][0] / W, y=1 - caption_pos[i][1] / H, xanchor="center", yanchor="middle",
                            font=dict(family="Liberation Serif", size=22.2, color="#111111")))

layout["shapes"] = shapes
layout["annotations"] = annotations
fig.update_layout(**layout)

# Tighten the native legends to matplotlib's row pitch and padding
compact_legends = """
document.body.style.margin='0';document.body.style.overflow='hidden';
document.querySelectorAll('.legend,.legend2,.legend3').forEach(function(lg){
  var bg=lg.querySelector('rect.bg'), oldW=+bg.getAttribute('width');
  lg.querySelectorAll('.traces').forEach(function(t,k){
    t.setAttribute('transform','translate(-7.5,'+(8+16*k)+')');
  });
  bg.setAttribute('height',66); bg.setAttribute('width',129);
  var m=/translate\\(([-\\d.]+),\\s*([-\\d.]+)\\)/.exec(lg.getAttribute('transform'));
  lg.setAttribute('transform','translate('+(+m[1]+oldW-129)+','+m[2]+')');
});
"""
fig.write_html("out.html", post_script=compact_legends, config={"displayModeBar": False})
